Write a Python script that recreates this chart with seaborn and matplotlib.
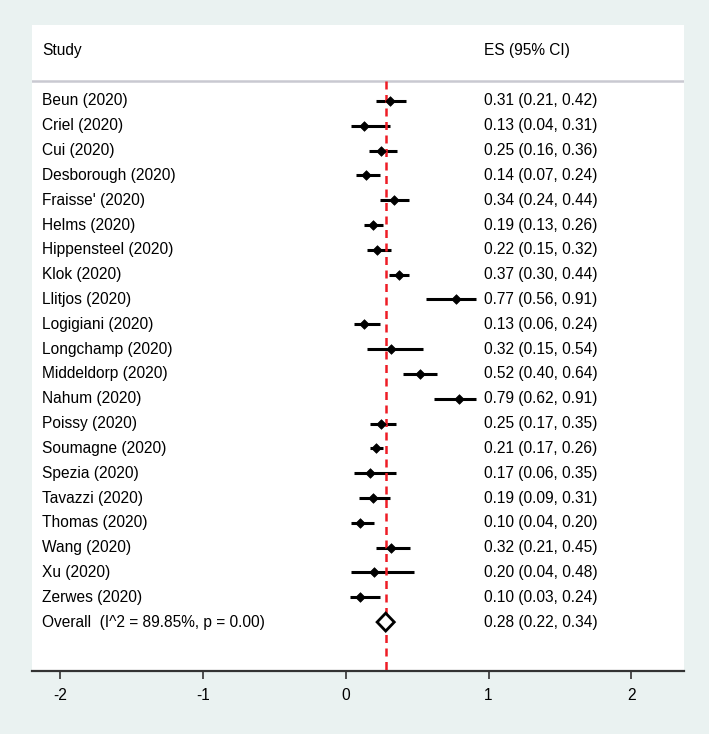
import matplotlib
matplotlib.use("Agg")
import matplotlib.pyplot as plt
import seaborn as sns
import pandas as pd

# study estimates (ES with 95% CI)
studies = ["Beun (2020)", "Criel (2020)", "Cui (2020)", "Desborough (2020)",
           "Fraisse' (2020)", "Helms (2020)", "Hippensteel (2020)", "Klok (2020)",
           "Llitjos (2020)", "Logigiani (2020)", "Longchamp (2020)",
           "Middeldorp (2020)", "Nahum (2020)", "Poissy (2020)", "Soumagne (2020)",
           "Spezia (2020)", "Tavazzi (2020)", "Thomas (2020)", "Wang (2020)",
           "Xu (2020)", "Zerwes (2020)"]
es = [0.31, 0.13, 0.25, 0.14, 0.34, 0.19, 0.22, 0.37, 0.77, 0.13, 0.32,
      0.52, 0.79, 0.25, 0.21, 0.17, 0.19, 0.10, 0.32, 0.20, 0.10]
lo = [0.21, 0.04, 0.16, 0.07, 0.24, 0.13, 0.15, 0.30, 0.56, 0.06, 0.15,
      0.40, 0.62, 0.17, 0.17, 0.06, 0.09, 0.04, 0.21, 0.04, 0.03]
hi = [0.42, 0.31, 0.36, 0.24, 0.44, 0.26, 0.32, 0.44, 0.91, 0.24, 0.54,
      0.64, 0.91, 0.35, 0.26, 0.35, 0.31, 0.20, 0.45, 0.48, 0.24]

overall_label = "Overall  (I^2 = 89.85%, p = 0.00)"
overall_es, overall_lo, overall_hi = 0.28, 0.22, 0.34

xticks = [-2, -1, 0, 1, 2]

df = pd.DataFrame({"study": studies, "es": es, "lo": lo, "hi": hi})
df["row"] = range(len(df))
overall_row = len(df)

bg = "#EAF2F1"
font = ["Liberation Sans", "DejaVu Sans"]
plt.rcParams["font.family"] = font

fig = plt.figure(figsize=(7.09, 7.34), dpi=100, facecolor=bg)
ax = fig.add_axes([0.0451, 0.0862, 0.9196, 0.8797])
ax.set_facecolor("white")

# confidence intervals
ax.hlines(df["row"], df["lo"], df["hi"], color="black", lw=2.2, zorder=3)
sns.scatterplot(data=df, x="es", y="row", marker="D", color="black", s=24,
                edgecolor="black", linewidth=0.5, ax=ax, zorder=4, legend=False)

# overall diamond
h = 0.36
ax.fill([overall_lo, overall_es, overall_hi, overall_es],
        [overall_row, overall_row - h, overall_row, overall_row + h],
        facecolor="white", edgecolor="black", lw=2.0, zorder=4)

# header line and reference line
ax.axhline(-0.82, color="#C9C9D1", lw=1.8, zorder=2)
ax.vlines(overall_es, -0.82, 23.5, color="#EE1C25", lw=1.8,
          linestyles=(0, (3.2, 2.2)), zorder=3)

# text columns
x_study, x_es = -2.126, 0.967
fs = 11.2
ax.text(x_study, -2.03, "Study", fontsize=fs, va="center", ha="left")
ax.text(x_es, -2.03, "ES (95% CI)", fontsize=fs, va="center", ha="left")
for r, name, e, l, u in zip(df["row"], studies, es, lo, hi):
    ax.text(x_study, r, name, fontsize=fs, va="center", ha="left")
    ax.text(x_es, r, f"{e:.2f} ({l:.2f}, {u:.2f})", fontsize=fs,
            va="center", ha="left")
ax.text(x_study, overall_row, overall_label, fontsize=fs, va="center", ha="left")
ax.text(x_es, overall_row,
        f"{overall_es:.2f} ({overall_lo:.2f}, {overall_hi:.2f})",
        fontsize=fs, va="center", ha="left")

ax.set_xlim(-2.196, 2.368)
ax.set_ylim(22.96, -3.06)
ax.set_xticks(xticks)
ax.set_xticklabels([str(t) for t in xticks])
ax.set_yticks([])
ax.set_xlabel("")
ax.set_ylabel("")
for side in ["top", "left", "right"]:
    ax.spines[side].set_visible(False)
ax.spines["bottom"].set_color("#333333")
ax.spines["bottom"].set_linewidth(1.6)
ax.tick_params(axis="x", direction="out", length=5.5, width=1.2,
               color="#333333", labelsize=fs, pad=7)

fig.savefig("out.png", dpi=100, facecolor=bg)
